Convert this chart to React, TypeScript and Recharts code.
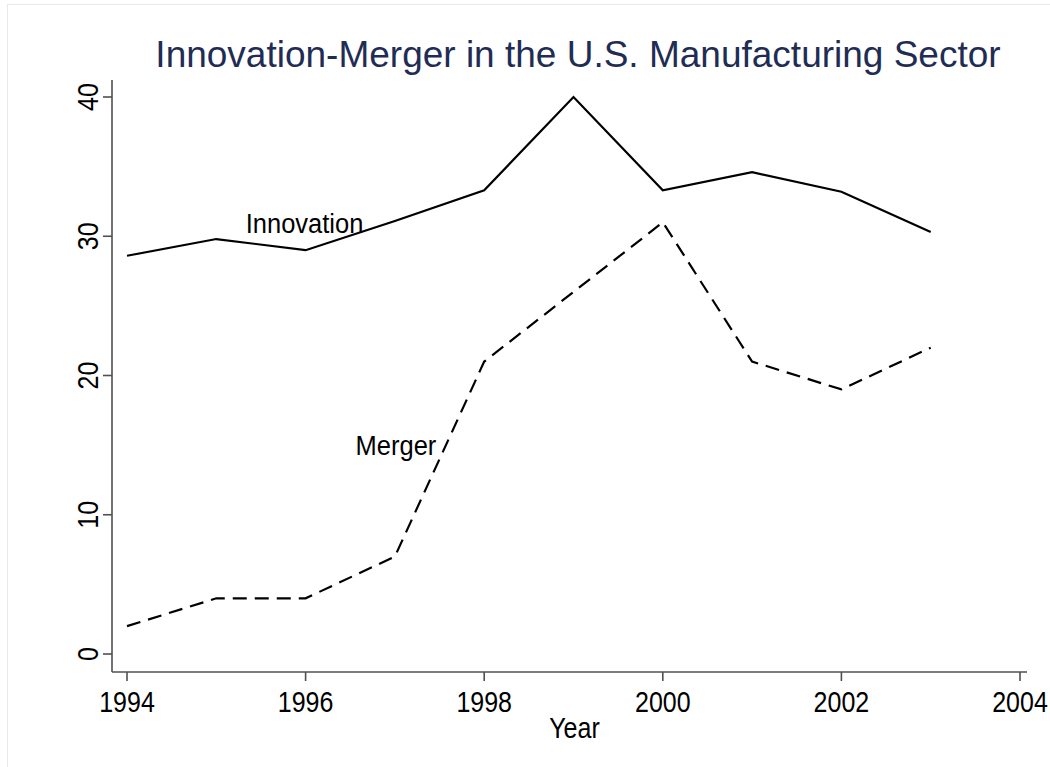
import React from "react"
import { LineChart, Line, XAxis, YAxis, ReferenceDot } from "recharts"

const years = [1994, 1995, 1996, 1997, 1998, 1999, 2000, 2001, 2002, 2003]
const innovation = [28.6, 29.8, 29.0, 31.1, 33.3, 40.0, 33.3, 34.6, 33.2, 30.3]
const merger = [2, 4, 4, 7, 21, 26, 31, 21, 19, 22]

const xTicks = [1994, 1996, 1998, 2000, 2002, 2004]
const yTicks = [0, 10, 20, 30, 40]

// where the in-plot text labels sit (data units, left/baseline)
const innovationLabel = { x: 1995.33, y: 30.25, text: "Innovation" }
const mergerLabel = { x: 1996.56, y: 14.3, text: "Merger" }

const data = years.map((year, i) => ({
  year,
  innovation: innovation[i],
  merger: merger[i],
}))

const FONT = "'Liberation Sans', Arial, Helvetica, sans-serif"
const AXIS = "#505050"
const STRETCH = 1.15 // the original's lettering is a bit taller than Arial

function YTick(props: any) {
  const { x, y, payload } = props
  return (
    <text
      transform={`translate(${x}, ${y}) rotate(-90) scale(1, ${STRETCH})`}
      x={0}
      y={0}
      textAnchor="middle"
      fontSize={25}
      fontFamily={FONT}
      fill="#000"
    >
      {payload.value}
    </text>
  )
}

function XTick(props: any) {
  const { x, y, payload } = props
  return (
    <text
      transform={`translate(${x}, ${y + 19}) scale(1, ${STRETCH})`}
      x={0}
      y={0}
      textAnchor="middle"
      fontSize={25}
      fontFamily={FONT}
      fill="#000"
    >
      {payload.value}
    </text>
  )
}

function textShape(label: string) {
  return (props: any) => (
    <text
      transform={`translate(${props.cx}, ${props.cy}) scale(1, 1.05)`}
      x={0}
      y={0}
      fontSize={25.5}
      fontFamily={FONT}
      fill="#000"
    >
      {label}
    </text>
  )
}

export default function App() {
  return (
    <div style={{ position: "absolute", left: 0, top: 0, width: 1050, height: 767, background: "#fff", overflow: "hidden" }}>
      <div
        style={{
          position: "absolute",
          left: 7,
          top: 4,
          width: 1060,
          height: 780,
          borderLeft: "1px solid #e4ebee",
          borderTop: "1px solid #e4ebee",
        }}
      />
      <svg width={1050} height={100} style={{ position: "absolute", left: 0, top: 0 }}>
        <text x={578} y={67} textAnchor="middle" fontSize={37} fontFamily={FONT} fill="#1f2d55">
          Innovation-Merger in the U.S. Manufacturing Sector
        </text>
      </svg>
      <div style={{ position: "absolute", left: 0, top: 0 }}>
        <LineChart width={1050} height={767} data={data} margin={{ top: 80, right: 23, bottom: 35, left: 52 }}>
          <XAxis
            dataKey="year"
            type="number"
            domain={[1994, 2004]}
            ticks={xTicks}
            padding={{ left: 15, right: 7 }}
            height={60}
            stroke={AXIS}
            strokeWidth={1.6}
            tickSize={9}
            tickMargin={12}
            tick={<XTick />}
            label={(p: any) => {
              const vb = p.viewBox
              return (
                <text
                  transform={`translate(${vb.x + vb.width / 2 + 5}, ${vb.y + 66}) scale(1, ${STRETCH})`}
                  x={0}
                  y={0}
                  textAnchor="middle"
                  fontSize={25}
                  fontFamily={FONT}
                  fill="#000"
                >
                  Year
                </text>
              )
            }}
          />
          <YAxis
            type="number"
            domain={[0, 40]}
            ticks={yTicks}
            padding={{ top: 17, bottom: 18 }}
            width={60}
            stroke={AXIS}
            strokeWidth={1.6}
            tickSize={9}
            tickMargin={5}
            tick={<YTick />}
          />
          <Line
            type="linear"
            dataKey="innovation"
            stroke="#000"
            strokeWidth={2.2}
            dot={false}
            activeDot={false}
            isAnimationActive={false}
          />
          <Line
            type="linear"
            dataKey="merger"
            stroke="#000"
            strokeWidth={2.2}
            strokeDasharray="14 8"
            dot={false}
            activeDot={false}
            isAnimationActive={false}
          />
          <ReferenceDot x={innovationLabel.x} y={innovationLabel.y} r={0} shape={textShape(innovationLabel.text)} />
          <ReferenceDot x={mergerLabel.x} y={mergerLabel.y} r={0} shape={textShape(mergerLabel.text)} />
        </LineChart>
      </div>
    </div>
  )
}
